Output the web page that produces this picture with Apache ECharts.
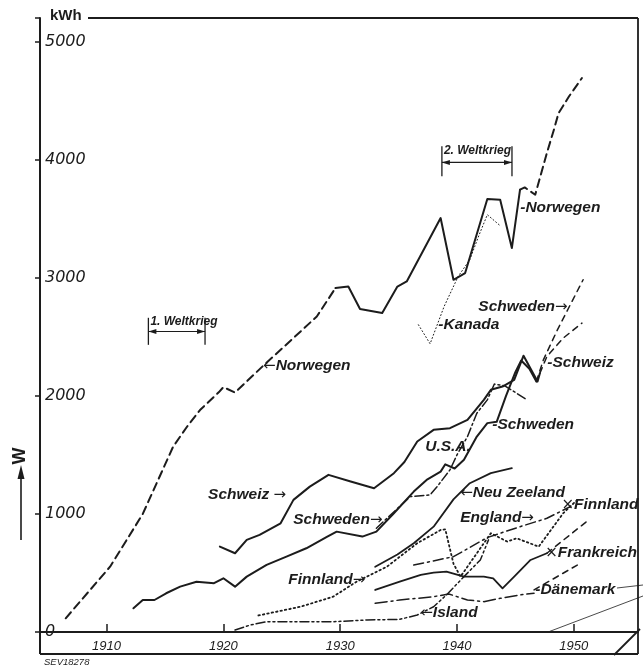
<!DOCTYPE html>
<html>
<head>
<meta charset="utf-8">
<script src="https://cdn.jsdelivr.net/npm/echarts@6/dist/echarts.min.js"></script>
<style>
html,body{margin:0;padding:0;background:#fff}
#chart{width:643px;height:668px}
</style>
</head>
<body>
<div id="chart"></div>
<script>
// Axis ticks
const yearTicks = [1910, 1920, 1930, 1940, 1950];
const valueTicks = [0, 1000, 2000, 3000, 4000, 5000];

// Per-capita electricity consumption W, kWh per inhabitant and year
const norwegenEarly = [[1906.5,116],[1910.3,553],[1913.1,1000],[1915.7,1570],[1916.9,1740],[1918.0,1880],[1919.6,2030],[1920.0,2074],[1921.0,2028],[1923.4,2254],[1926.3,2517],[1928.0,2672],[1929.6,2913]];
const norwegenMid = [[1929.6,2913],[1930.7,2926],[1931.7,2735],[1933.6,2701],[1934.9,2926],[1935.7,2969],[1938.6,3506],[1939.7,2983],[1940.7,3040],[1942.6,3667],[1943.7,3661],[1944.7,3252],[1945.4,3746]];
const norwegenLate = [[1945.4,3746],[1945.8,3765],[1946.7,3703],[1947.7,4057],[1948.3,4254],[1948.7,4395],[1949.6,4537],[1950.7,4692]];
const kanada = [[1936.7,2602],[1937.7,2441],[1938.9,2757],[1940.1,3011],[1941.1,3153],[1941.9,3364],[1942.6,3534],[1943.7,3441]];
const schweiz = [[1919.7,723],[1921.0,667],[1922.0,780],[1923.1,822],[1924.9,921],[1926.0,1119],[1927.4,1231],[1929.0,1331],[1930.9,1274],[1932.9,1218],[1934.6,1345],[1935.5,1440],[1936.6,1613],[1938.0,1712],[1939.4,1726],[1940.9,1797],[1942.3,1966],[1942.9,2051],[1943.9,2079],[1944.9,2136],[1945.7,2340],[1946.9,2121],[1947.1,2192]];
const schweizLate = [[1947.1,2192],[1947.7,2333],[1949.1,2489],[1950.7,2616]];
const schweden = [[1912.3,201],[1913.1,271],[1914.1,271],[1915.1,328],[1916.3,384],[1917.7,426],[1919.2,413],[1920.0,455],[1921.0,384],[1922.0,469],[1923.7,568],[1925.4,638],[1927.1,709],[1928.9,808],[1929.7,850],[1931.9,808],[1933.1,850],[1934.6,1006],[1936.3,1189],[1937.4,1288],[1938.6,1358],[1939.0,1420],[1939.8,1385],[1940.6,1458],[1941.7,1655],[1942.6,1769],[1943.4,1780],[1944.2,2000],[1945.0,2200],[1945.5,2300],[1946.2,2230],[1946.8,2121]];
const schwedenLate = [[1946.8,2121],[1947.4,2305],[1948.6,2559],[1950.8,2983]];
const usa = [[1933.1,879],[1936.0,1147],[1937.7,1161],[1938.3,1231],[1939.4,1373],[1940.0,1500],[1940.9,1655],[1941.7,1853],[1942.6,1966],[1943.2,2100],[1944.1,2085],[1946.0,1966]];
const neuZeeland = [[1933.0,553],[1934.9,657],[1936.3,752],[1938.0,892],[1939.7,1123],[1941.1,1260],[1942.9,1345],[1944.7,1387]];
const finnland = [[1923.0,140],[1926.6,214],[1929.4,299],[1931.4,426],[1934.0,553],[1936.6,752],[1938.6,864],[1939.0,870],[1939.7,579],[1940.3,469],[1942.9,836],[1944.3,766],[1945.1,794],[1947.0,723],[1949.1,1006],[1950.3,1119]];
const england = [[1936.3,567],[1939.7,638],[1942.6,800],[1945.4,892],[1947.7,963],[1949.7,1062]];
const frankreich = [[1933.0,356],[1935.1,426],[1936.9,483],[1938.0,503],[1939.1,511],[1940.6,469],[1942.3,469],[1943.1,455],[1943.9,370],[1944.9,469],[1946.3,610],[1947.7,667]];
const frankreichLate = [[1947.7,667],[1951.1,935]];
const daenemark = [[1933.0,243],[1935.1,271],[1938.0,299],[1939.3,322],[1940.9,271],[1942.3,257],[1943.7,285],[1945.4,314],[1946.6,328]];
const daenemarkLate = [[1946.6,356],[1950.3,567]];
const island = [[1921.0,17],[1922.3,59],[1923.7,87],[1926.6,87],[1929.4,87],[1932.3,102],[1935.1,107],[1936.6,144],[1938.0,214],[1939.1,314],[1940.6,469],[1942.0,610],[1942.7,780]];

const INK = '#1c1c1c';
const FONT = '"DejaVu Sans", "Liberation Sans", sans-serif';
const LFONT = '"Liberation Sans", Arial, sans-serif';
const DASH = [8, 5];
const DOT = [1.5, 3];
const DASHDOT = [9, 3, 2, 3];
const DASHDOTDOT = [9, 3, 2, 3, 2, 3];

function seriesOf(name, data, width, type) {
  return {
    name: name, type: 'line', data: data, symbol: 'none', showSymbol: false,
    silent: true, animation: false,
    lineStyle: { color: INK, width: width, type: type, cap: 'round', join: 'round' }
  };
}

const chart = echarts.init(document.getElementById('chart'), null, { renderer: 'canvas' });

chart.setOption({
  backgroundColor: '#ffffff',
  animation: false,
  grid: { left: 40, right: 5, top: 18, bottom: 36 },
  xAxis: {
    type: 'value', min: 1904.3, max: 1955.5,
    axisLine: { lineStyle: { color: INK, width: 2 } },
    axisTick: { customValues: yearTicks, inside: true, length: 8, lineStyle: { color: INK, width: 1.5 } },
    axisLabel: { customValues: yearTicks, formatter: v => String(v), color: INK, fontFamily: LFONT, fontStyle: 'italic', fontSize: 13, margin: 8 },
    splitLine: { show: false }
  },
  yAxis: {
    type: 'value', min: 0, max: 5200,
    axisLine: { lineStyle: { color: INK, width: 2 } },
    axisTick: { customValues: valueTicks.concat([5200]), inside: false, length: 5, lineStyle: { color: INK, width: 1.5 } },
    axisLabel: { customValues: valueTicks, formatter: v => String(v), inside: true, margin: 5, color: INK, fontFamily: FONT, fontStyle: 'italic', fontSize: 16, verticalAlign: 'middle', padding: [0, 0, 9, 0] },
    splitLine: { show: false }
  },
  series: [
    seriesOf('Norwegen', norwegenEarly, 2, DASH),
    seriesOf('Norwegen', norwegenMid, 2, 'solid'),
    seriesOf('Norwegen', norwegenLate, 2, DASH),
    seriesOf('Kanada', kanada, 1, [1, 2.5]),
    seriesOf('Schweiz', schweiz, 2, 'solid'),
    seriesOf('Schweiz', schweizLate, 1.5, [6, 5]),
    seriesOf('Schweden', schweden, 2, 'solid'),
    seriesOf('Schweden', schwedenLate, 1.5, [6, 5]),
    seriesOf('U.S.A.', usa, 1.5, DASHDOT),
    seriesOf('Neu Zeeland', neuZeeland, 1.8, 'solid'),
    seriesOf('Finnland', finnland, 1.8, DOT),
    seriesOf('England', england, 1.5, [10, 4, 2, 4]),
    seriesOf('Frankreich', frankreich, 1.8, 'solid'),
    seriesOf('Frankreich', frankreichLate, 1.5, [6, 5]),
    seriesOf('Dänemark', daenemark, 1.5, [12, 4, 2, 4]),
    seriesOf('Dänemark', daenemarkLate, 1.5, [6, 5]),
    seriesOf('Island', island, 1.5, DASHDOTDOT)
  ]
});

// Series names placed next to their curves, anchored in data coordinates;
// {a|...} marks the leader arrows
const annotations = [
  { text: '-Norwegen', at: [1945.42, 3591] },
  { text: '{a|←}Norwegen', at: [1923.40, 2253] },
  { text: '-Kanada', at: [1938.40, 2600] },
  { text: 'Schweden{a|→}', at: [1941.83, 2752] },
  { text: '-Schweiz', at: [1947.74, 2278] },
  { text: '-Schweden', at: [1943.02, 1753] },
  { text: 'U.S.A.', at: [1937.28, 1567] },
  { text: 'Schweiz {a|→}', at: [1918.69, 1160] },
  { text: 'Schweden{a|→}', at: [1925.98, 949] },
  { text: '{a|←}Neu Zeeland', at: [1940.28, 1177] },
  { text: 'England{a|→}', at: [1940.28, 965] },
  { text: '{a|×}Finnland', at: [1948.94, 1076] },
  { text: '{a|×}Frankreich', at: [1947.56, 669] },
  { text: '-Dänemark', at: [1946.70, 356] },
  { text: '{a|←}Island', at: [1936.86, 161] },
  { text: 'Finnland{a|→}', at: [1925.55, 440] }
];

// War periods: start year, end year, bar bottom, bar top, arrow level, label
const warPeriods = [
  { from: 1913.58, to: 1918.43, lo: 2432, hi: 2661, mid: 2545, label: '1. Weltkrieg' },
  { from: 1938.71, to: 1944.71, lo: 3859, hi: 4113, mid: 3977, label: '2. Weltkrieg' }
];

function px(p) { return chart.convertToPixel({ gridIndex: 0 }, p); }

const g = [];
const textEl = (t, x, y, font, rich) => ({
  type: 'text', x: x, y: y, silent: true,
  style: { text: t, fill: INK, font: font, textAlign: 'left', textVerticalAlign: 'middle', rich: rich }
});
const seg = (x1, y1, x2, y2, w) => ({
  type: 'line', silent: true,
  shape: { x1: x1, y1: y1, x2: x2, y2: y2 },
  style: { stroke: INK, lineWidth: w || 1.5 }
});
const tri = (pts) => ({ type: 'polygon', silent: true, shape: { points: pts }, style: { fill: INK } });

const arrowRich = { a: { fontFamily: FONT, fontSize: 15, fill: INK } };
annotations.forEach(a => {
  const p = px(a.at);
  g.push(textEl(a.text, p[0], p[1], 'italic bold 15.5px ' + LFONT, arrowRich));
});

warPeriods.forEach(w => {
  const a = px([w.from, w.hi]), b = px([w.to, w.lo]), m = px([w.from, w.mid]);
  g.push(seg(a[0], a[1], a[0], b[1], 1.3));
  g.push(seg(b[0], a[1], b[0], b[1], 1.3));
  g.push(seg(a[0], m[1], b[0], m[1], 1.2));
  g.push(tri([[a[0], m[1]], [a[0] + 8, m[1] - 2.5], [a[0] + 8, m[1] + 2.5]]));
  g.push(tri([[b[0], m[1]], [b[0] - 8, m[1] - 2.5], [b[0] - 8, m[1] + 2.5]]));
  g.push(textEl(w.label, a[0] + 2, a[1] + 4, 'italic bold 12px ' + LFONT));
});

// Frame, unit and axis title
const o = px([1904.3, 0]);
const tr = px([1955.5, 5200]);
const frameBottom = o[1] + 22;
g.push(seg(88, tr[1], tr[0], tr[1], 2));
g.push(seg(tr[0], tr[1], tr[0], frameBottom, 1.8));
g.push(seg(o[0], frameBottom, tr[0], frameBottom, 2));
g.push(seg(o[0], o[1], o[0], frameBottom, 2));
g.push(seg(tr[0] - 24, frameBottom + 1, tr[0] + 2, o[1] - 3, 1.8));
g.push(seg(px([1947.8, 0])[0], o[1], 643, o[1] - 36, 0.8));
g.push(seg(617, 588, 643, 585, 0.8));
g.push(textEl('kWh', o[0] + 10, tr[1] - 2, 'bold 15px ' + LFONT));
g.push({ type: 'text', x: 20, y: 456, rotation: Math.PI / 2, silent: true,
  style: { text: 'W', fill: INK, font: 'bold 18px ' + LFONT, textAlign: 'center', textVerticalAlign: 'middle' } });
g.push(seg(21, 476, 21, 540, 1.6));
g.push(tri([[21, 465], [17.5, 479], [24.5, 479]]));
g.push(textEl('SEV18278', 44, 662, 'italic 9.5px ' + LFONT));

chart.setOption({ graphic: g });
</script>
</body>
</html>
